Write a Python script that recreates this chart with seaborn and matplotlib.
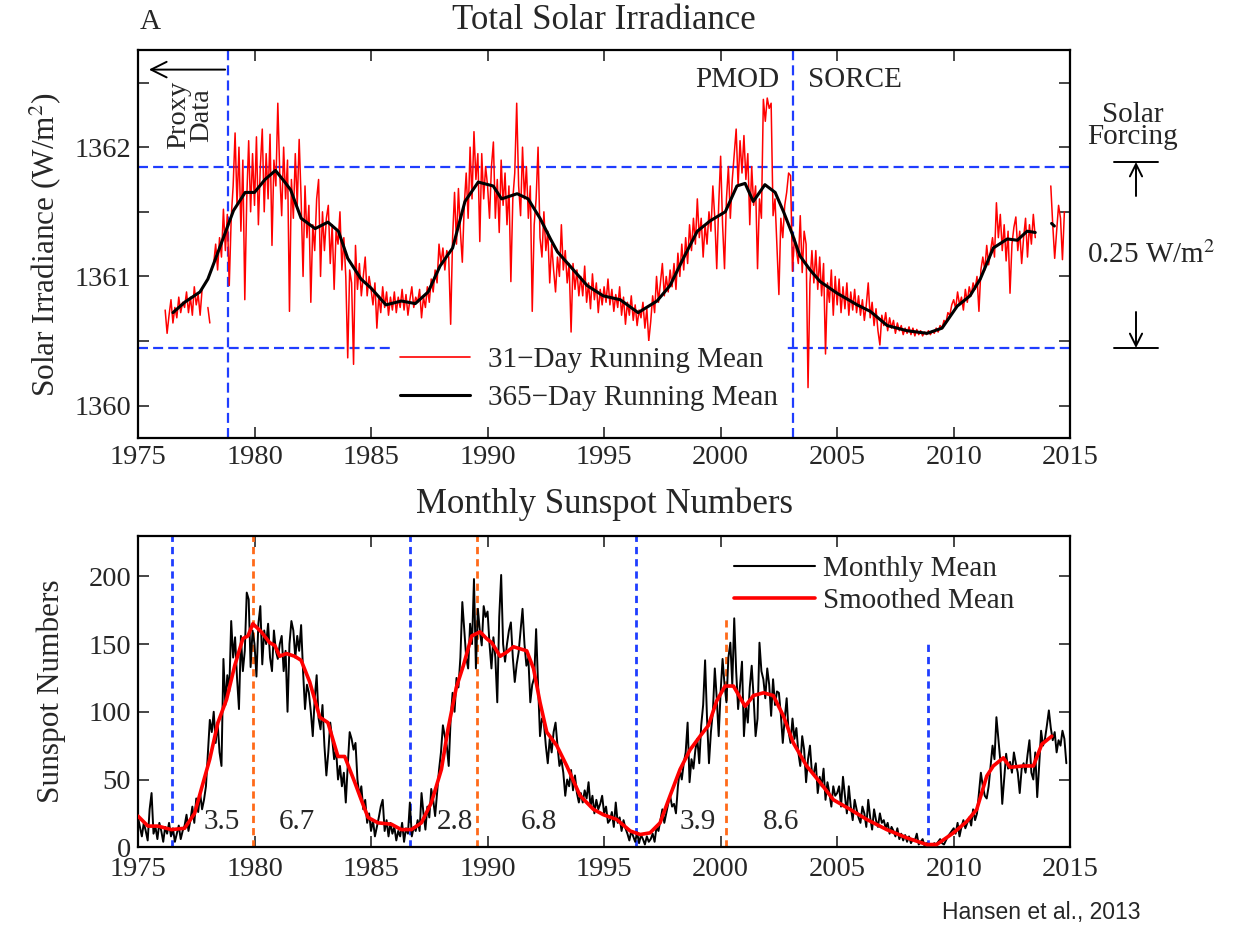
import numpy as np
import pandas as pd
import matplotlib
matplotlib.use("Agg")
import matplotlib.pyplot as plt
from matplotlib.lines import Line2D
import seaborn as sns

nan = np.nan

# Total solar irradiance, 31-day running mean (W/m2), monthly samples from 1976.0
tsi31_start = 1976.0
tsi31 = [
    nan, nan, 1360.74, 1360.56, 1360.70, 1360.82, 1360.64, 1360.76, 1360.68, 1360.84, 1360.72, 1360.80,          # 1976
    1360.76, 1360.88, 1360.72, 1360.84, 1360.70, 1360.92, 1360.78, 1360.86, 1360.70, 1360.90, nan, nan,          # 1977
    1360.76, 1360.64, nan, 1361.10, 1361.25, 1361.05, 1361.30, 1361.15, 1361.52, 1361.20, 1361.48, 1360.93,      # 1978
    1361.45, 1361.70, 1362.11, 1361.55, 1362.00, 1361.35, 1361.90, 1360.82, 1361.60, 1362.05, 1361.50, 1361.95,  # 1979
    1361.55, 1362.08, 1361.40, 1361.85, 1362.14, 1361.50, 1361.95, 1361.60, 1362.10, 1361.24, 1361.90, 1361.70,  # 1980
    1362.34, 1361.80, 1361.47, 1362.00, 1361.60, 1361.90, 1360.73, 1361.75, 1361.45, 1361.95, 1361.55, 1362.06,  # 1981
    1361.60, 1361.00, 1361.70, 1361.30, 1361.55, 1360.80, 1361.40, 1361.20, 1361.60, 1361.75, 1361.00, 1361.50,  # 1982
    1361.20, 1361.45, 1361.55, 1361.10, 1361.40, 1360.90, 1361.35, 1361.25, 1361.50, 1361.05, 1361.30, 1361.00,  # 1983
    1360.37, 1361.05, 1360.95, 1360.32, 1361.24, 1360.90, 1361.10, 1360.85, 1361.00, 1361.15, 1360.85, 1361.00,  # 1984
    1360.90, 1360.78, 1360.95, 1360.60, 1360.85, 1360.72, 1360.92, 1360.76, 1360.88, 1360.70, 1360.84, 1360.74,  # 1985
    1360.88, 1360.72, 1360.84, 1360.76, 1360.90, 1360.74, 1360.86, 1360.70, 1360.82, 1360.92, 1360.76, 1360.84,  # 1986
    1360.80, 1360.90, 1360.68, 1360.84, 1360.76, 1360.92, 1360.80, 1360.98, 1360.88, 1361.05, 1360.95, 1361.25,  # 1987
    1361.10, 1361.22, 1361.05, 1361.20, 1361.15, 1360.63, 1361.30, 1361.65, 1361.25, 1361.68, 1361.35, 1361.11,  # 1988
    1361.55, 1361.80, 1361.45, 1362.00, 1361.60, 1362.12, 1361.75, 1361.95, 1361.27, 1361.95, 1361.60, 1361.85,  # 1989
    1361.70, 1361.45, 1361.85, 1362.04, 1361.45, 1361.75, 1361.34, 1361.90, 1361.55, 1361.80, 1361.40, 1361.70,  # 1990
    1360.96, 1361.60, 1361.80, 1362.34, 1361.70, 1361.47, 1362.00, 1361.60, 1361.85, 1361.45, 1361.70, 1360.73,  # 1991
    1361.40, 1361.60, 1362.00, 1361.30, 1361.15, 1361.50, 1361.20, 1361.35, 1360.95, 1361.25, 1361.05, 1360.88,  # 1992
    1361.15, 1361.00, 1361.40, 1361.05, 1361.20, 1360.95, 1361.10, 1360.57, 1361.10, 1360.90, 1361.05, 1360.85,  # 1993
    1361.00, 1360.85, 1361.08, 1360.80, 1360.95, 1360.75, 1361.02, 1360.82, 1360.95, 1360.72, 1360.90, 1360.78,  # 1994
    1360.92, 1360.80, 1360.98, 1360.78, 1360.90, 1360.73, 1360.86, 1360.76, 1360.92, 1360.70, 1360.84, 1360.63,  # 1995
    1360.80, 1360.70, 1360.85, 1360.66, 1360.78, 1360.62, 1360.74, 1360.68, 1360.80, 1360.60, 1360.75, 1360.50,  # 1996
    1360.65, 1360.85, 1360.72, 1361.00, 1360.80, 1360.95, 1361.10, 1360.85, 1361.00, 1360.88, 1361.05, 1360.92,  # 1997
    1361.10, 1360.90, 1361.18, 1361.00, 1361.25, 1361.05, 1361.30, 1361.10, 1361.40, 1361.20, 1361.45, 1361.25,  # 1998
    1361.60, 1361.30, 1361.45, 1361.15, 1361.40, 1361.25, 1361.50, 1361.35, 1361.70, 1361.45, 1361.06, 1361.55,  # 1999
    1361.93, 1361.40, 1361.06, 1361.60, 1361.85, 1361.45, 1361.75, 1361.95, 1362.14, 1361.70, 1362.05, 1361.80,  # 2000
    1362.09, 1361.75, 1361.95, 1361.40, 1361.85, 1361.55, 1361.70, 1361.06, 1361.60, 1361.45, 1362.37, 1362.20,  # 2001
    1362.38, 1362.30, 1362.34, 1361.47, 1361.60, 1361.24, 1360.86, 1361.45, 1361.30, 1361.55, 1361.65, 1361.80,  # 2002
    1361.78, 1361.04, 1361.30, 1361.20, 1361.10, 1361.47, 1361.03, 1361.35, 1361.25, 1360.14, 1360.95, 1361.20,  # 2003
    1360.95, 1361.20, 1360.90, 1361.15, 1360.85, 1361.10, 1360.40, 1360.95, 1360.80, 1361.05, 1360.70, 1361.00,  # 2004
    1360.78, 1360.98, 1360.72, 1360.92, 1360.75, 1360.95, 1360.70, 1360.88, 1360.74, 1360.90, 1360.72, 1360.85,  # 2005
    1360.70, 1360.82, 1360.66, 1360.78, 1360.95, 1360.68, 1360.80, 1360.62, 1360.75, 1360.58, 1360.47, 1360.70,  # 2006
    1360.62, 1360.72, 1360.58, 1360.68, 1360.60, 1360.66, 1360.56, 1360.64, 1360.58, 1360.62, 1360.55, 1360.60,  # 2007
    1360.56, 1360.61, 1360.55, 1360.60, 1360.54, 1360.59, 1360.55, 1360.58, 1360.54, 1360.57, 1360.55, 1360.58,  # 2008
    1360.55, 1360.58, 1360.56, 1360.60, 1360.57, 1360.62, 1360.60, 1360.66, 1360.64, 1360.72, 1360.70, 1360.78,  # 2009
    1360.82, 1360.75, 1360.88, 1360.78, 1360.84, 1360.74, 1360.90, 1360.80, 1360.92, 1360.85, 1360.95, 1360.90,  # 2010
    1361.00, 1360.73, 1361.05, 1361.15, 1361.05, 1361.24, 1361.09, 1361.20, 1361.30, 1361.15, 1361.57, 1361.30,  # 2011
    1361.48, 1361.20, 1361.40, 1361.12, 1361.35, 1360.87, 1361.25, 1361.38, 1361.46, 1361.20, 1361.35, 1361.10,  # 2012
    1361.30, 1361.45, 1361.15, 1361.40, 1361.25, 1361.48, 1361.30, nan, nan, nan, nan, nan,                      # 2013
    nan, nan, 1361.70, 1361.40, 1361.14, 1361.35, 1361.55, 1361.45, 1361.13, 1361.50, nan, nan,                 # 2014
]

# 365-day running mean
tsi365_year = [1976.5, 1977.0, 1977.66, 1978.0, 1978.5, 1979.1, 1979.6, 1980.0, 1980.45, 1980.9,
               1981.3, 1981.55, 1982.0, 1982.6, 1983.15, 1983.6, 1984.0, 1984.57, 1985.0, 1985.64,
               1986.3, 1986.9, 1987.45, 1987.96, 1988.5, 1989.03, 1989.6, 1990.24, 1990.6, 1991.27,
               1991.74, 1992.25, 1992.7, 1993.0, 1993.54, 1994.27, 1994.96, 1995.69, 1996.46, 1997.27,
               1997.83, 1998.4, 1999.0, 1999.55, 2000.2, 2000.7, 2001.05, 2001.4, 2001.9, 2002.34,
               2002.7, 2003.07, 2003.4, 2003.84, 2004.27, 2005.0, 2005.86, 2006.42, 2007.15, 2008.0,
               2008.86, 2009.5, 2010.15, 2010.7, 2011.14, 2011.7, 2012.3, 2012.73, 2013.15, 2013.5,
               nan, 2014.2, 2014.32]
tsi365_val = [1360.72, 1360.80, 1360.88, 1360.98, 1361.22, 1361.51, 1361.65, 1361.65, 1361.75, 1361.82,
              1361.73, 1361.67, 1361.45, 1361.37, 1361.42, 1361.35, 1361.14, 1360.98, 1360.91, 1360.78,
              1360.81, 1360.79, 1360.88, 1361.08, 1361.22, 1361.58, 1361.73, 1361.70, 1361.60, 1361.64,
              1361.60, 1361.45, 1361.29, 1361.19, 1361.08, 1360.93, 1360.85, 1360.82, 1360.72, 1360.81,
              1360.93, 1361.14, 1361.35, 1361.43, 1361.50, 1361.70, 1361.72, 1361.58, 1361.71, 1361.65,
              1361.50, 1361.33, 1361.16, 1361.05, 1360.96, 1360.87, 1360.78, 1360.73, 1360.62, 1360.58,
              1360.56, 1360.60, 1360.77, 1360.85, 1360.98, 1361.22, 1361.29, 1361.28, 1361.35, 1361.34,
              nan, 1361.41, 1361.39]

# Monthly sunspot numbers from 1975.0
ssn_start = 1975.0
ssn_monthly = [
    22, 15, 8, 18, 12, 5, 28, 40, 10, 15, 6, 18,                 # 1975
    12, 4, 15, 10, 18, 8, 14, 4, 10, 16, 6, 12,                  # 1976
    16, 24, 12, 20, 30, 18, 36, 26, 40, 28, 35, 45,              # 1977
    70, 94, 85, 100, 77, 92, 70, 60, 139, 105, 127, 115,         # 1978
    167, 140, 155, 125, 102, 156, 130, 145, 188, 183, 133, 160,  # 1979
    150, 126, 165, 178, 135, 160, 150, 165, 140, 130, 160, 145,  # 1980
    139, 150, 156, 130, 145, 100, 150, 167, 160, 140, 156, 145,  # 1981
    164, 130, 102, 120, 114, 100, 82, 110, 127, 95, 87, 105,     # 1982
    75, 53, 70, 92, 80, 65, 72, 50, 60, 45, 55, 33,              # 1983
    60, 85, 80, 72, 77, 50, 38, 45, 28, 35, 18, 25,              # 1984
    12, 20, 8, 15, 22, 30, 35, 12, 20, 8, 18, 10,                # 1985
    15, 5, 12, 8, 18, 4, 14, 10, 33, 8, 15, 12,                  # 1986
    20, 12, 40, 25, 13, 30, 22, 43, 35, 23, 40, 57,              # 1987
    70, 90, 82, 75, 60, 95, 114, 100, 125, 118, 140, 181,        # 1988
    160, 140, 132, 165, 150, 198, 132, 176, 160, 149, 178, 170,  # 1989
    174, 150, 132, 155, 140, 107, 170, 201, 150, 137, 150, 160,  # 1990
    166, 140, 122, 135, 144, 160, 176, 150, 134, 140, 107, 120,  # 1991
    125, 161, 120, 82, 95, 92, 75, 62, 80, 70, 85, 92,           # 1992
    75, 60, 65, 55, 38, 50, 45, 57, 42, 53, 40, 33,              # 1993
    40, 33, 42, 36, 48, 30, 38, 25, 35, 28, 32, 38,              # 1994
    25, 30, 18, 20, 26, 15, 33, 18, 22, 12, 20, 14,              # 1995
    10, 5, 12, 8, 4, 11, 3, 9, 6, 2, 8, 4,                       # 1996
    6, 10, 4, 15, 12, 20, 28, 18, 25, 32, 38, 30,                # 1997
    32, 25, 45, 57, 50, 62, 70, 92, 48, 65, 58, 72,              # 1998
    80, 62, 90, 105, 138, 95, 62, 85, 100, 132, 110, 82,         # 1999
    115, 139, 120, 107, 140, 151, 120, 169, 130, 102, 120, 137,  # 2000
    82, 105, 92, 118, 134, 110, 82, 95, 151, 130, 124, 110,      # 2001
    132, 120, 97, 124, 105, 115, 114, 98, 77, 95, 110, 85,       # 2002
    77, 95, 80, 88, 70, 60, 82, 72, 48, 65, 75, 55,              # 2003
    55, 62, 40, 52, 45, 58, 35, 48, 40, 30, 45, 38,              # 2004
    40, 45, 30, 52, 38, 25, 45, 30, 20, 35, 28, 22,              # 2005
    18, 30, 25, 15, 35, 22, 13, 28, 20, 15, 25, 18,              # 2006
    20, 14, 18, 10, 15, 12, 8, 14, 6, 10, 5, 9,                  # 2007
    4, 8, 3, 6, 5, 10, 2, 4, 6, 1, 3, 2,                         # 2008
    2, 1, 3, 2, 4, 6, 3, 2, 5, 8, 10, 12,                        # 2009
    14, 10, 18, 8, 15, 20, 14, 18, 22, 16, 28, 20,               # 2010
    25, 40, 55, 45, 38, 36, 45, 60, 75, 65, 96, 80,              # 2011
    64, 32, 50, 69, 58, 63, 55, 70, 62, 55, 40, 58,              # 2012
    62, 55, 68, 79, 55, 50, 70, 37, 60, 86, 75, 80,              # 2013
    90, 101, 88, 79, 85, 70, 79, 75, 86, 80, 62, nan,            # 2014
]

ssn_smooth_year = [1975.0, 1975.43, 1975.86, 1976.43, 1977.0, 1977.43, 1977.72, 1978.08, 1978.43, 1978.8,
                   1979.15, 1979.5, 1979.72, 1979.93, 1980.29, 1980.65, 1980.87, 1981.08, 1981.37, 1981.72,
                   1982.0, 1982.37, 1982.8, 1983.15, 1983.58, 1983.87, 1984.3, 1984.58, 1984.87, 1985.3,
                   1985.87, 1986.3, 1986.73, 1987.16, 1987.59, 1988.02, 1988.3, 1988.66, 1988.96, 1989.32,
                   1989.68, 1989.96, 1990.18, 1990.54, 1990.82, 1991.11, 1991.68, 1991.97, 1992.25, 1992.54,
                   1992.97, 1993.4, 1993.97, 1994.54, 1994.97, 1995.54, 1996.12, 1996.55, 1996.97, 1997.4,
                   1997.83, 1998.26, 1998.69, 1999.12, 1999.48, 1999.83, 2000.19, 2000.55, 2001.05, 2001.41,
                   2001.84, 2002.26, 2002.69, 2003.12, 2003.69, 2004.26, 2004.84, 2005.55, 2006.27, 2007.13,
                   2007.98, 2008.84, 2009.27, 2009.99, 2010.56, 2010.99, 2011.42, 2011.7, 2012.13, 2012.42,
                   2012.99, 2013.42, 2013.78, 2014.21]
ssn_smooth_val = [23, 15.6, 15.6, 13, 14, 25, 43, 65, 92, 109,
                  134, 154, 156, 165, 159, 151, 149, 141, 143, 141,
                  138, 122, 96, 92, 67, 67, 48, 35, 22, 18,
                  17, 13, 13, 18, 33, 57.5, 87, 118, 134, 156,
                  159, 154, 151, 141, 144, 148, 145, 132, 107, 85,
                  75, 60, 38, 28, 24, 20.5, 12, 9.4, 10.6, 18,
                  38, 57.5, 72, 82, 90, 108, 119, 119, 104, 112,
                  114, 112, 97, 77, 60, 48, 35, 28, 20.5, 13,
                  7, 2, 2, 10.6, 19, 28, 52.6, 60, 66, 59,
                  60, 60, 76, 82]

# cycle minima / maxima and rise / decline lengths (years)
cycle_min = [1976.46, 1986.67, 1996.37, 2008.9]
cycle_max = [1979.94, 1989.55, 2000.24]
phase_year = [1978.6, 1981.8, 1988.6, 1992.2, 1999.0, 2002.6]
phase_len = ["3.5", "6.7", "2.8", "6.8", "3.9", "8.6"]


def segments(x, y):
    df = pd.DataFrame({"x": x, "y": y})
    df["seg"] = (df["x"].isna() | df["y"].isna()).cumsum()
    return df.dropna()


sns.set_style("ticks")
plt.rcParams["font.family"] = ["Liberation Serif", "DejaVu Serif"]
plt.rcParams["mathtext.fontset"] = "stix"

BLUE = "#1f3dff"
ORANGE = "#ff6a1a"
FS = 21

fig = plt.figure(figsize=(12.43, 9.3), dpi=100)
ax1 = fig.add_axes([0.111, 0.529, 0.750, 0.417])
ax2 = fig.add_axes([0.111, 0.089, 0.750, 0.335])

# ---------------- top panel ----------------
t31 = segments(tsi31_start + np.arange(len(tsi31)) / 12, tsi31)
t365 = segments(tsi365_year, tsi365_val)
sns.lineplot(data=t31, x="x", y="y", units="seg", estimator=None, sort=False,
             color="red", lw=1.1, ax=ax1, legend=False)
sns.lineplot(data=t365, x="x", y="y", units="seg", estimator=None, sort=False,
             color="black", lw=2.2, ax=ax1, legend=False)

dash = (0, (4.5, 2.3))
for yy in [1361.85, 1360.45]:
    ax1.axhline(yy, color=BLUE, ls=dash, lw=1.6, zorder=1)
for xx in [1978.86, 2003.1]:
    ax1.axvline(xx, color=BLUE, ls=dash, lw=1.6, zorder=1)

ax1.set_xlim(1975, 2015)
ax1.set_ylim(1359.75, 1362.75)
ax1.set_xticks(range(1975, 2016, 5))
ax1.set_yticks([1360, 1361, 1362])
ax1.set_yticks([1360.5, 1361.5, 1362.5], minor=True)
ax1.set_xlabel("")
ax1.set_ylabel("Solar Irradiance (W/m$^2$)", fontsize=22.5, labelpad=8)
ax1.text(0.5, 1 + 30 / 388, "Total Solar Irradiance", transform=ax1.transAxes,
         ha="center", va="center", fontsize=25)

ax1.annotate("", xy=(1975.35, 1362.6), xytext=(1978.86, 1362.6),
             arrowprops=dict(arrowstyle="->", color="black", lw=1.4, mutation_scale=28))
ax1.text(1977.25, 1362.25, "Proxy\nData", rotation=90, ha="center", va="center",
         fontsize=20.5, linespacing=0.9)
ax1.text(2002.5, 1362.52, "PMOD", ha="right", va="center", fontsize=FS)
ax1.text(2003.75, 1362.52, "SORCE", ha="left", va="center", fontsize=FS)

h1 = [Line2D([], [], color="red", lw=1.2), Line2D([], [], color="black", lw=2.2)]
leg1 = ax1.legend(h1, ["31\u2212Day Running Mean", "365\u2212Day Running Mean"],
                  loc="upper left", bbox_to_anchor=(0.275, 0.25), borderaxespad=0,
                  fontsize=FS, frameon=True, fancybox=False, edgecolor="none",
                  facecolor="white", framealpha=1, handlelength=2.4, handletextpad=0.6,
                  labelspacing=0.4, borderpad=0.2)
leg1.set_zorder(2)

# ---------------- bottom panel ----------------
s_m = segments(ssn_start + np.arange(len(ssn_monthly)) / 12, ssn_monthly)
s_s = segments(ssn_smooth_year, ssn_smooth_val)
sns.lineplot(data=s_m, x="x", y="y", units="seg", estimator=None, sort=False,
             color="black", lw=1.4, ax=ax2, legend=False, zorder=3)
sns.lineplot(data=s_s, x="x", y="y", units="seg", estimator=None, sort=False,
             color="red", lw=2.6, ax=ax2, legend=False, zorder=4)

dash2 = (0, (2.6, 1.8))
for i, xx in enumerate(cycle_min):
    top = 1.0 if i < 3 else 150 / 230
    ax2.axvline(xx, ymin=0, ymax=top, color=BLUE, ls=dash2, lw=2, zorder=2)
for i, xx in enumerate(cycle_max):
    top = 1.0 if i < 2 else 170 / 230
    ax2.axvline(xx, ymin=0, ymax=top, color=ORANGE, ls=dash2, lw=2, zorder=2)
for xx, lab in zip(phase_year, phase_len):
    ax2.text(xx, 18.5, lab, ha="center", va="center", fontsize=FS, zorder=5)

ax2.set_xlim(1975, 2015)
ax2.set_ylim(0, 230)
ax2.set_xticks(range(1975, 2016, 5))
ax2.set_yticks(range(0, 201, 50))
ax2.set_xlabel("")
ax2.set_ylabel("Sunspot Numbers", fontsize=22.5, labelpad=16)
ax2.text(0.5, 1 + 31 / 311, "Monthly Sunspot Numbers", transform=ax2.transAxes,
         ha="center", va="center", fontsize=25)

h2 = [Line2D([], [], color="black", lw=1.5), Line2D([], [], color="red", lw=2.6)]
ax2.legend(h2, ["Monthly Mean", "Smoothed Mean"], loc="upper right",
           bbox_to_anchor=(0.953, 0.974), borderaxespad=0, fontsize=FS, frameon=False,
           handlelength=2.75, handletextpad=0.3, labelspacing=0.2)

for ax in (ax1, ax2):
    ax.tick_params(which="both", direction="in", length=8, width=1.2,
                   top=True, right=True, labelsize=20.5, pad=5)
    for sp in ax.spines.values():
        sp.set_linewidth(1.6)
        sp.set_color("black")
ax2.tick_params(axis="x", pad=7)

# ---------------- annotations outside the axes ----------------
fig.text(150 / 1243, 1 - 22 / 930, "A", fontsize=FS, ha="center", va="center")
fig.text(1133 / 1243, 1 - 126 / 930, "Solar\nForcing", fontsize=FS, ha="center",
         va="center", linespacing=0.8)
fig.text(1151 / 1243, 1 - 255 / 930, "0.25 W/m$^2$", fontsize=FS, ha="center", va="center")
bx = 1136 / 1243
for yb in [162, 348]:
    fig.add_artist(Line2D([1114 / 1243, 1158 / 1243], [1 - yb / 930, 1 - yb / 930],
                          color="black", lw=1.4, transform=fig.transFigure))
ax1.annotate("", xy=(bx, 1 - 162 / 930), xytext=(bx, 1 - 196 / 930),
             xycoords="figure fraction", textcoords="figure fraction", annotation_clip=False,
             arrowprops=dict(arrowstyle="->", color="black", lw=1.4, mutation_scale=22,
                             shrinkA=0, shrinkB=0))
ax1.annotate("", xy=(bx, 1 - 348 / 930), xytext=(bx, 1 - 312 / 930),
             xycoords="figure fraction", textcoords="figure fraction", annotation_clip=False,
             arrowprops=dict(arrowstyle="->", color="black", lw=1.4, mutation_scale=22,
                             shrinkA=0, shrinkB=0))
fig.text(1140 / 1243, 1 - 912 / 930, "Hansen et al., 2013", fontsize=16.5, ha="right",
         va="center", family=["Liberation Sans", "DejaVu Sans"])

fig.savefig("out.png", dpi=100, facecolor="white")
